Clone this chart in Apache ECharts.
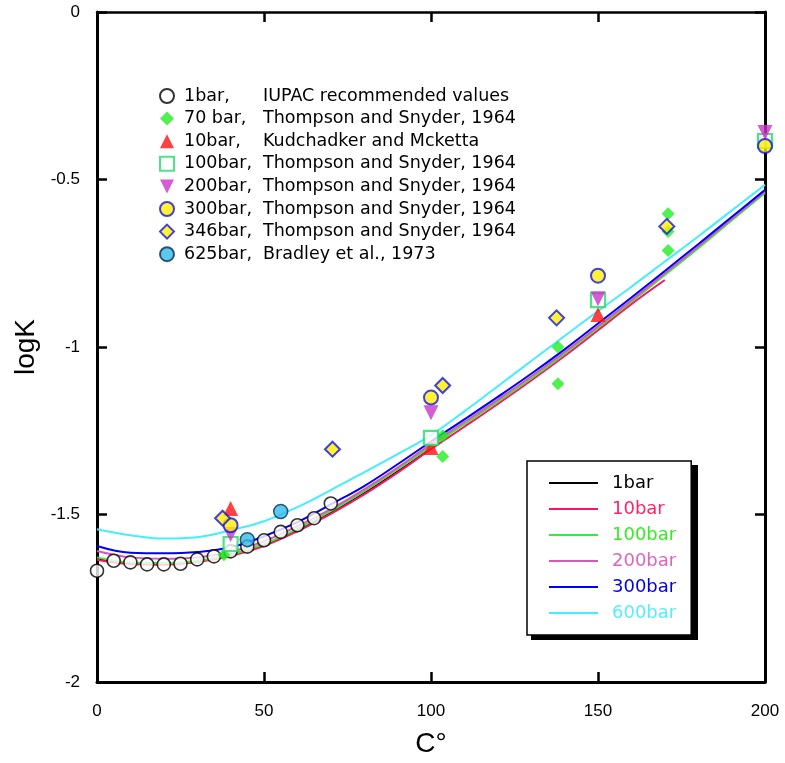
<!DOCTYPE html>
<html>
<head>
<meta charset="utf-8">
<script src="https://cdn.jsdelivr.net/npm/echarts@6/dist/echarts.min.js"></script>
<style>
  html, body { margin: 0; padding: 0; background: #fff; }
  #chart { width: 785px; height: 763px; }
</style>
</head>
<body>
<div id="chart"></div>
<script>
// model curves (temperature in C, logK)
var fitT = [0, 10, 20, 30, 40, 50, 60, 70, 80, 90, 100, 110, 120, 130, 140, 150, 160, 170, 180, 190, 200];
var fit1bar = [-1.633, -1.646, -1.648, -1.640, -1.620, -1.590, -1.547, -1.494, -1.437, -1.372, -1.303];
var fit10bar = [-1.635, -1.648, -1.650, -1.642, -1.624, -1.594, -1.550, -1.498, -1.440, -1.375, -1.305, -1.238, -1.170, -1.100, -1.027, -0.950, -0.872, -0.800];
var fit100bar = [-1.628, -1.643, -1.645, -1.638, -1.620, -1.588, -1.543, -1.490, -1.430, -1.365, -1.296, -1.230, -1.163, -1.094, -1.020, -0.943, -0.865, -0.785, -0.705, -0.622, -0.540];
var fit200bar = [-1.609, -1.628, -1.632, -1.628, -1.612, -1.580, -1.535, -1.484, -1.425, -1.360, -1.290, -1.224, -1.157, -1.088, -1.015, -0.938, -0.860, -0.780, -0.700, -0.618, -0.536];
var fit300bar = [-1.594, -1.614, -1.616, -1.612, -1.598, -1.565, -1.523, -1.470, -1.415, -1.350, -1.282, -1.216, -1.149, -1.080, -1.007, -0.930, -0.852, -0.773, -0.693, -0.612, -0.531];
var fit600bar = [-1.544, -1.562, -1.572, -1.568, -1.547, -1.520, -1.478, -1.427, -1.374, -1.320, -1.263, -1.192, -1.117, -1.042, -0.967, -0.893, -0.820, -0.745, -0.670, -0.593, -0.516];

// measured points
var iupacT = [0, 5, 10, 15, 20, 25, 30, 35, 40, 45, 50, 55, 60, 65, 70];
var iupacLogK = [-1.668, -1.638, -1.643, -1.649, -1.649, -1.647, -1.634, -1.625, -1.610, -1.596, -1.577, -1.552, -1.532, -1.511, -1.467];
var ts70T = [38, 103.5, 103.5, 138, 138, 171, 171, 171];
var ts70LogK = [-1.620, -1.265, -1.327, -1.000, -1.110, -0.602, -0.655, -0.712];
var kmT = [40, 100, 150];
var kmLogK = [-1.482, -1.300, -0.903];
var ts100T = [40, 100, 150, 200];
var ts100LogK = [-1.588, -1.271, -0.860, -0.385];
var ts200T = [40, 100, 150, 200];
var ts200LogK = [-1.560, -1.196, -0.856, -0.360];
var ts300T = [40, 100, 150, 200];
var ts300LogK = [-1.532, -1.151, -0.787, -0.400];
var ts346T = [37.6, 70.5, 103.5, 137.6, 170.6];
var ts346LogK = [-1.511, -1.305, -1.115, -0.913, -0.640];
var br625T = [45, 55];
var br625LogK = [-1.575, -1.491];

var xTicks = [0, 50, 100, 150, 200];
var yTicks = [-2, -1.5, -1, -0.5, 0];

function pairs(xs, ys) {
  return ys.map(function (y, i) { return [xs[i], y]; });
}

var lineNames = ['1bar', '10bar', '100bar', '200bar', '300bar', '600bar'];
var lineColors = ['#000000', '#ff1166', '#33ee33', '#dd55bb', '#0000ff', '#44eeff'];
var lineTextColors = ['#000000', '#ff2266', '#33ee22', '#dd66bb', '#0000ee', '#55eeff'];
var lineData = [fit1bar, fit10bar, fit100bar, fit200bar, fit300bar, fit600bar];

var font = 'DejaVu Sans';
var series = [];
lineNames.forEach(function (n, i) {
  series.push({
    name: n,
    type: 'line',
    data: pairs(fitT, lineData[i]),
    smooth: 0.4,
    showSymbol: false,
    symbol: 'none',
    color: lineColors[i],
    lineStyle: { color: lineColors[i], width: 2 },
    z: 2
  });
});

var scatterDefs = [
  { name: '1bar, IUPAC recommended values', x: iupacT, y: iupacLogK, symbol: 'circle', size: 13,
    style: { color: '#ffffff', borderColor: '#000000', borderWidth: 1.6 } },
  { name: '70 bar, Thompson and Snyder, 1964', x: ts70T, y: ts70LogK, symbol: 'diamond', size: 13,
    style: { color: '#22ee22' } },
  { name: '10bar, Kudchadker and Mcketta', x: kmT, y: kmLogK, symbol: 'triangle', size: 15,
    style: { color: '#ff1111' } },
  { name: '100bar, Thompson and Snyder, 1964', x: ts100T, y: ts100LogK, symbol: 'rect', size: 14,
    style: { color: '#ffffff', borderColor: '#22dd66', borderWidth: 2.2 } },
  { name: '200bar, Thompson and Snyder, 1964', x: ts200T, y: ts200LogK, symbol: 'path://M0,0 L10,0 L5,10 Z', size: 15,
    style: { color: '#cc33cc' } },
  { name: '300bar, Thompson and Snyder, 1964', x: ts300T, y: ts300LogK, symbol: 'circle', size: 14,
    style: { color: '#ffee00', borderColor: '#1111ee', borderWidth: 2 } },
  { name: '346bar, Thompson and Snyder, 1964', x: ts346T, y: ts346LogK, symbol: 'diamond', size: 15,
    style: { color: '#ffee00', borderColor: '#1111ee', borderWidth: 2 } },
  { name: '625bar, Bradley et al., 1973', x: br625T, y: br625LogK, symbol: 'circle', size: 14,
    style: { color: '#33bbee', borderColor: '#0a3050', borderWidth: 1.5 } }
];
scatterDefs.forEach(function (d) {
  series.push({
    name: d.name,
    type: 'scatter',
    data: pairs(d.x, d.y),
    symbol: d.symbol,
    symbolSize: d.size,
    itemStyle: d.style,
    z: 3
  });
});

var axisLineStyle = { color: '#000', width: 3 };
var tickStyle = { color: '#000', width: 2.5 };

var chart = echarts.init(document.getElementById('chart'), null, { renderer: 'canvas' });
chart.setOption({
  animation: false,
  backgroundColor: '#ffffff',
  grid: { left: 97, right: 20, top: 12, bottom: 80, containLabel: false },
  // drop shadow behind the line legend box
  graphic: [{
    type: 'rect',
    left: 531, top: 465, z: 1,
    shape: { width: 167, height: 175 },
    style: { fill: '#000' }
  }],
  legend: [
    {
      orient: 'vertical',
      left: 159,
      top: 87,
      padding: 0,
      itemWidth: 14,
      itemHeight: 14,
      itemGap: 4.6,
      selectedMode: false,
      data: scatterDefs.map(function (d) { return d.name; }),
      formatter: function (name) {
        var i = name.indexOf(',');
        return '{a|' + name.slice(0, i + 1) + '}{b|' + name.slice(i + 1).trim() + '}';
      },
      textStyle: {
        padding: [0, 0, 0, 5],
        rich: {
          a: { width: 79, fontSize: 17.5, lineHeight: 17, fontFamily: font, color: '#000' },
          b: { fontSize: 17.5, lineHeight: 17, fontFamily: font, color: '#000' }
        }
      }
    },
    {
      orient: 'vertical',
      left: 527,
      top: 461,
      padding: [13, 15, 13, 22],
      itemWidth: 49,
      itemHeight: 2,
      itemGap: 8,
      icon: 'rect',
      selectedMode: false,
      backgroundColor: '#ffffff',
      borderColor: '#000000',
      borderWidth: 1.5,
      z: 5,
      data: lineNames.map(function (n, i) {
        return { name: n, textStyle: { color: lineTextColors[i] } };
      }),
      textStyle: { fontSize: 18, lineHeight: 18, fontFamily: font, padding: [0, 0, 0, 9] }
    }
  ],
  xAxis: [
    {
      type: 'value', min: 0, max: 200, interval: 50, position: 'bottom',
      name: 'C\u00b0', nameLocation: 'middle', nameGap: 48,
      nameTextStyle: { fontSize: 28, fontFamily: 'Liberation Sans', color: '#000' },
      axisLine: { onZero: false, lineStyle: axisLineStyle },
      axisTick: { inside: true, length: 10, lineStyle: tickStyle },
      axisLabel: {
        margin: 21, fontSize: 17, fontFamily: 'Liberation Sans', color: '#000',
        formatter: function (v) { return xTicks.indexOf(v) >= 0 ? String(v) : ''; }
      },
      splitLine: { show: false }
    },
    {
      type: 'value', min: 0, max: 200, interval: 50, position: 'top',
      axisLine: { onZero: false, lineStyle: { color: '#000', width: 2.5 } },
      axisTick: { inside: true, length: 10, lineStyle: tickStyle },
      axisLabel: { show: false },
      splitLine: { show: false }
    }
  ],
  yAxis: [
    {
      type: 'value', min: -2, max: 0, interval: 0.5, position: 'left',
      name: 'logK', nameLocation: 'middle', nameGap: 47, nameRotate: 90,
      nameTextStyle: { fontSize: 28, fontFamily: 'Liberation Sans', color: '#000' },
      axisLine: { onZero: false, lineStyle: axisLineStyle },
      axisTick: { inside: true, length: 10, lineStyle: tickStyle },
      axisLabel: {
        margin: 17, fontSize: 17, fontFamily: 'Liberation Sans', color: '#000',
        formatter: function (v) { return yTicks.indexOf(v) >= 0 ? String(v) : ''; }
      },
      splitLine: { show: false }
    },
    {
      type: 'value', min: -2, max: 0, interval: 0.5, position: 'right',
      axisLine: { onZero: false, lineStyle: axisLineStyle },
      axisTick: { inside: true, length: 10, lineStyle: tickStyle },
      axisLabel: { show: false },
      splitLine: { show: false }
    }
  ],
  series: series
});
</script>
</body>
</html>
